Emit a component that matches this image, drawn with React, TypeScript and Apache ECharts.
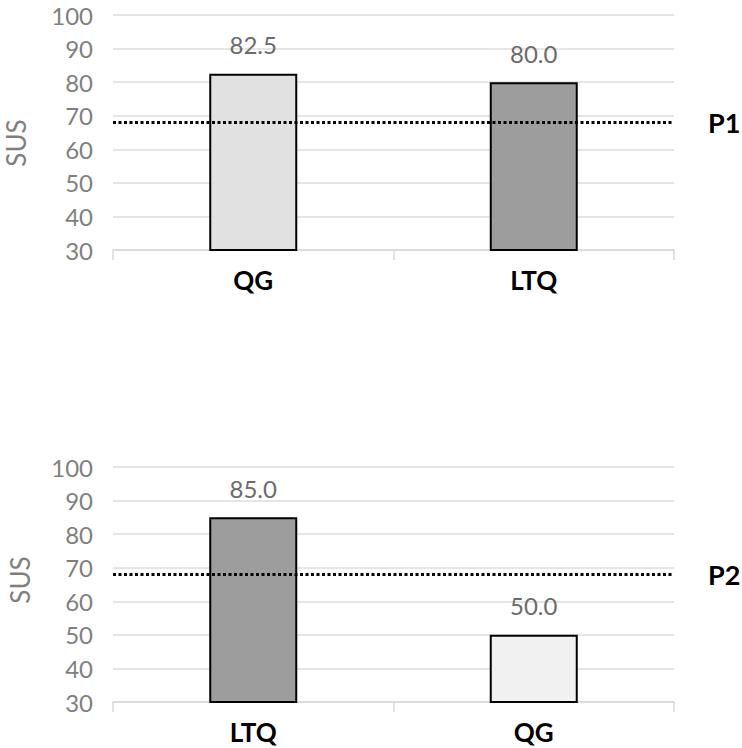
import React, { useEffect, useRef } from "react";
import * as echarts from "echarts";

const topCategories = ["QG", "LTQ"];
const topValues = [82.5, 80.0];
const topColors = ["#e1e1e1", "#9d9d9d"];
const bottomCategories = ["LTQ", "QG"];
const bottomValues = [85.0, 50.0];
const bottomColors = ["#9d9d9d", "#f1f1f1"];
const benchmark = 68;
const panelLabels = ["P1", "P2"];
const yTicks = { min: 30, max: 100, interval: 10 };

const FONT = "Lato";

export default function App() {
  const ref = useRef<HTMLDivElement>(null);
  useEffect(() => {
    document.body.style.margin = "0";
    if (!ref.current) return;
    const chart = echarts.init(ref.current, undefined, { renderer: "svg" });

    const mkX = (gridIndex: number, data: string[]) => ({
      type: "category",
      gridIndex,
      data,
      axisLine: { show: true, lineStyle: { color: "#d9d9d9", width: 1.5 } },
      axisTick: { show: true, length: 10, lineStyle: { color: "#d9d9d9", width: 1.5 } },
      axisLabel: { color: "#000", fontSize: 26, fontWeight: "bold", margin: 17, fontFamily: FONT },
    });
    const mkY = (gridIndex: number) => ({
      type: "value",
      gridIndex,
      min: yTicks.min,
      max: yTicks.max,
      interval: yTicks.interval,
      axisLine: { show: false },
      axisTick: { show: false },
      axisLabel: { color: "#7f7f7f", fontSize: 24, margin: 20, fontFamily: FONT },
      splitLine: { lineStyle: { color: "#dcdcdc", width: 1.5 } },
    });
    const mkSeries = (idx: number, values: number[], colors: string[], label: string) => ({
      type: "bar",
      xAxisIndex: idx,
      yAxisIndex: idx,
      barWidth: 88,
      data: values.map((v, i) => ({
        value: v,
        itemStyle: { color: colors[i], borderColor: "#000", borderWidth: 2 },
      })),
      label: {
        show: true,
        position: "top",
        distance: 17,
        color: "#6b6b6b",
        fontSize: 24,
        fontFamily: FONT,
        formatter: (p: any) => Number(p.value).toFixed(1),
      },
      markLine: {
        silent: true,
        symbol: ["none", "none"],
        lineStyle: { color: "#000", type: [3, 2.5], width: 3 },
        label: {
          show: true,
          position: "end",
          distance: 34,
          formatter: label,
          color: "#000",
          fontSize: 27,
          fontWeight: "bold",
          fontFamily: FONT,
        },
        data: [{ yAxis: benchmark }],
      },
    });

    chart.setOption({
      animation: false,
      textStyle: { fontFamily: FONT },
      grid: [
        { left: 113, top: 15, width: 561, height: 235 },
        { left: 113, top: 467, width: 561, height: 235 },
      ],
      xAxis: [mkX(0, topCategories), mkX(1, bottomCategories)],
      yAxis: [mkY(0), mkY(1)],
      series: [
        mkSeries(0, topValues, topColors, panelLabels[0]),
        mkSeries(1, bottomValues, bottomColors, panelLabels[1]),
      ],
      graphic: [
        {
          type: "text",
          x: 16,
          y: 143,
          rotation: Math.PI / 2,
          style: {
            text: "SUS",
            fill: "#7f7f7f",
            fontSize: 26,
            fontFamily: FONT,
            align: "center",
            verticalAlign: "middle",
          },
        },
        {
          type: "text",
          x: 20,
          y: 580,
          rotation: Math.PI / 2,
          style: {
            text: "SUS",
            fill: "#7f7f7f",
            fontSize: 26,
            fontFamily: FONT,
            align: "center",
            verticalAlign: "middle",
          },
        },
      ],
    });
    return () => chart.dispose();
  }, []);
  return <div ref={ref} style={{ width: 742, height: 748 }} />;
}
